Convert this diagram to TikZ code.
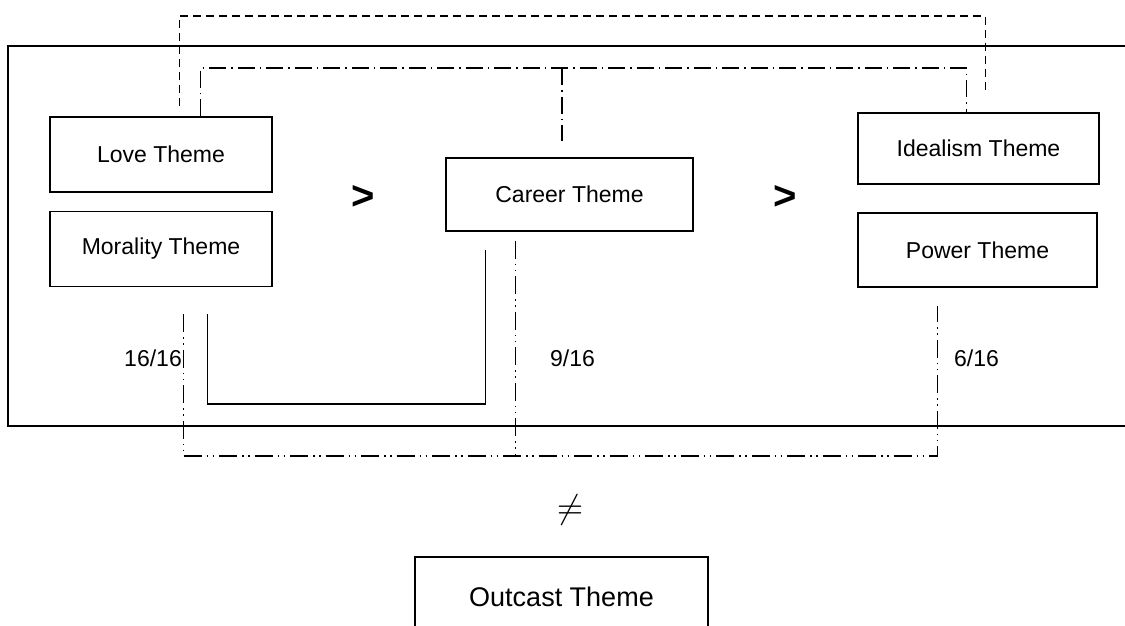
\documentclass[tikz,border=0pt]{standalone}
\usepackage{fontspec}
\setmainfont{Liberation Sans}
\usetikzlibrary{positioning}

\tikzset{
  theme/.style={draw, line width=1.5pt, minimum width=222pt, minimum height=75pt, inner sep=2pt, font=\fontsize{23}{27}\selectfont},
  ratio/.style={inner sep=1pt, font=\fontsize{23}{27}\selectfont},
  rank/.style={inner sep=1pt, font=\bfseries\fontsize{40}{42}\selectfont},
  dashline/.style={line width=1.4pt, dash pattern=on 8pt off 5pt},
  dotdash/.style={line width=1.4pt, dash pattern=on 17pt off 5pt on 1.5pt off 5pt},
  dotdotdash/.style={line width=1.4pt, dash pattern=on 18pt off 5pt on 1.5pt off 4.5pt on 1.5pt off 5pt}
}

\begin{document}
\begin{tikzpicture}[x=1pt, y=-1pt]
\useasboundingbox (0,0) rectangle (1125,625);

% frame round the three groups
\draw[line width=1.5pt] (8,46) rectangle (1140,426);

\node[theme] (love) at (161,154.5) {Love Theme};
\node[theme] (moral) at (161,249) {Morality Theme};
\node[theme, minimum width=247pt, minimum height=73pt] (career) at (569.5,194.5) {Career Theme};
\node[theme, minimum width=241pt, minimum height=71pt] (ideal) at (978.5,148.5) {Idealism Theme};
\node[theme, minimum width=239pt, minimum height=74pt] (power) at (977.5,250) {Power Theme};
\node[theme, minimum width=293pt, minimum height=80pt, font=\fontsize{27}{31}\selectfont] (outcast) at (561.5,597) {Outcast Theme};

\node[rank] (gtA) at (363,197) {>};
\node[rank] (gtB) at (785,197) {>};
\node[scale=3.4, inner sep=1pt] (neq) at (570,510) {$\neq$};

\coordinate (topdash) at (560,16);
\coordinate (topdot) at (560,68);
\coordinate (botdot) at (560,456);
\coordinate (ubot) at (340,404);

% links above the boxes
\draw[dashline] ([shift={(130pt,10pt)}]love.north west) |- (topdash) -| ([shift={(128pt,20pt)}]ideal.north west);
\draw[dotdash] ([xshift=151pt]love.north west) |- (topdot) -| ([xshift=109pt]ideal.north west);
\draw[dotdash] ([xshift=-7.5pt]career.north |- topdot) -- ([shift={(-7.5pt,16pt)}]career.north);

% links below the boxes
\draw[dotdotdash] ([shift={(134pt,-27pt)}]moral.south west) |- (botdot) -| ([shift={(80pt,-18pt)}]power.south west);
\draw[dotdotdash] ([shift={(70pt,-9pt)}]career.south west) -- ([xshift=70pt]career.south west |- botdot);
\draw[line width=1.5pt] ([shift={(158pt,-27pt)}]moral.south west) |- (ubot) -| ([shift={(40pt,-18pt)}]career.south west);

\node[ratio, anchor=east] (rLove) at (183,358) {16/16};
\node[ratio, anchor=west] (rCareer) at (549,358) {9/16};
\node[ratio, anchor=west] (rIdeal) at (953,358) {6/16};
\end{tikzpicture}
\end{document}
